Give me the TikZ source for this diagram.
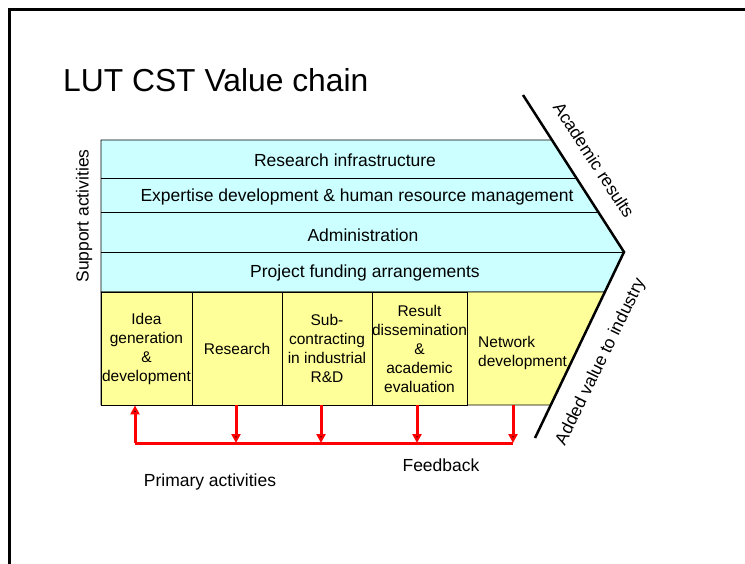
\documentclass[tikz,border=0pt]{standalone}
\usepackage{fontspec}
\setmainfont{Liberation Sans}
\usetikzlibrary{arrows.meta}
\definecolor{row_cyan}{RGB}{204,255,255}
\definecolor{cell_yellow}{RGB}{255,255,153}
\definecolor{feed_red}{RGB}{255,0,0}

\begin{document}
\begin{tikzpicture}[x=1pt,y=-1pt,>={Triangle[length=9pt,width=9pt]}]
    \tikzstyle{label}=[text=black, inner sep=0pt, font=\fontsize{17.5}{20}\selectfont]
    \tikzstyle{cell}=[draw=black, line width=0.8pt, fill=cell_yellow, minimum height=113pt, inner sep=0pt, align=center, font=\fontsize{15.5}{19}\selectfont]
    \tikzstyle{feedback}=[draw=feed_red, line width=3pt]
    \tikzstyle{edgeline}=[draw=black, line width=2.5pt]

    \useasboundingbox (0,0) rectangle (745,564);
    \draw[line width=2.5pt] (9.5,564) -- (9.5,9.5) -- (745,9.5);

    \node[anchor=west, inner sep=0pt, font=\fontsize{31.8}{36}\selectfont] (title) at (63,80) {LUT CST Value chain};

    % support activities
    \draw[fill=row_cyan, line width=0.8pt] (101,140) -- (552,140) -- (624,252) -- (605,292) -- (101,292) -- cycle;
    \draw[line width=0.8pt] (101,178) -- (576,178);
    \draw[line width=0.8pt] (101,212) -- (598,212);
    \draw[line width=0.8pt] (101,252) -- (624,252);
    \node[label] (infra)     at (345,160) {Research infrastructure};
    \node[label] (expertise) at (357,197) {Expertise development \& human resource management};
    \node[label] (admin)     at (363,235) {Administration};
    \node[label] (funding)   at (365,273) {Project funding arrangements};
    \node[label, rotate=90] (support) at (84,216) {Support activities};

    % primary activities
    \draw[fill=cell_yellow, line width=0.8pt] (101,292) -- (605,292) -- (551,405) -- (101,405) -- cycle;
    \node[cell, minimum width=91pt] (idea)     at (146.5,348.5) {Idea\\generation\\\&\\development};
    \node[cell, minimum width=90pt] (research) at (237,348.5)   {Research};
    \node[cell, minimum width=90pt] (subcon)   at (327,348.5)   {Sub-\\contracting\\in industrial\\R\&D};
    \node[cell, minimum width=95pt] (result)   at (419.5,348.5) {Result\\dissemination\\\&\\academic\\evaluation};
    \node[anchor=west, inner sep=0pt, align=left, font=\fontsize{15.5}{19}\selectfont] (network) at (478,353) {Network\\development};
    \node[label] (primary) at (210,482) {Primary activities};

    % results
    \coordinate (tip)     at (624,252);
    \coordinate (acadend) at (523,95);
    \coordinate (addend)  at (535,438);
    \draw[edgeline] (acadend) -- (tip) -- (addend);
    \node[label, rotate=-57] (academic) at (594,160) {Academic results};
    \node[label, rotate=64]  (added)    at (601,362) {Added value to industry};

    % feedback
    \coordinate (fb1) at (135,443);
    \coordinate (fb2) at (236,443);
    \coordinate (fb3) at (321,443);
    \coordinate (fb4) at (417,443);
    \coordinate (fb5) at (513,443);
    \draw[feedback] (fb1) -- (fb5);
    \path[feedback]
     (fb1) edge[->] (fb1 |- idea.south)
     (fb2 |- research.south) edge[->] (fb2)
     (fb3 |- subcon.south) edge[->] (fb3)
     (fb4 |- result.south) edge[->] (fb4)
     (fb5 |- result.south) edge[->] (fb5)
     ;
    \node[label] (feedlabel) at (441,465) {Feedback};
\end{tikzpicture}
\end{document}
